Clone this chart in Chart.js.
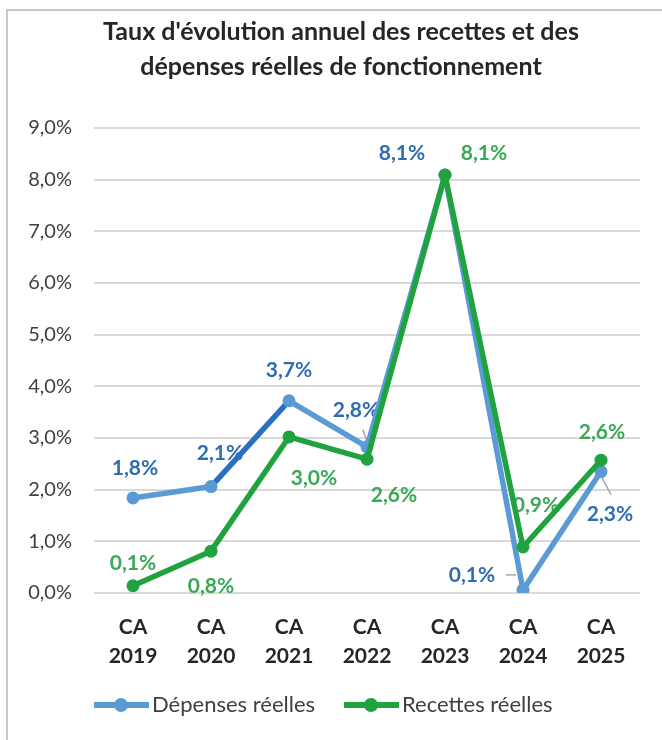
<!DOCTYPE html>
<html>
<head>
<meta charset="utf-8">
<script src="https://cdn.jsdelivr.net/npm/chart.js@4/dist/chart.umd.min.js"></script>
<style>
  html, body { margin: 0; padding: 0; background: #fff; }
  #wrap { position: relative; width: 662px; height: 740px; }
  #frame { position: absolute; left: 6px; top: 9px; right: 0; bottom: 0; border-left: 2px solid #c9c9c9; border-top: 2px solid #c9c9c9; pointer-events: none; }
</style>
</head>
<body>
<div id="wrap">
  <canvas id="myChart" width="662" height="740"></canvas>
  <div id="frame"></div>
</div>
<script>
// categories
const annees = [['CA', '2019'], ['CA', '2020'], ['CA', '2021'], ['CA', '2022'], ['CA', '2023'], ['CA', '2024'], ['CA', '2025']]

// taux d'évolution (%)
const depenses = [1.84, 2.06, 3.72, 2.83, 8.09, 0.06, 2.35]
const recettes = [0.14, 0.81, 3.02, 2.59, 8.09, 0.89, 2.57]

// valeurs affichées dans les étiquettes
const etiqDepenses = [1.8, 2.1, 3.7, 2.8, 8.1, 0.1, 2.3]
const etiqRecettes = [0.1, 0.8, 3.0, 2.6, 8.1, 0.9, 2.6]

const titre = ["Taux d'évolution annuel des recettes et des", 'dépenses réelles de fonctionnement']

// décalage des étiquettes par rapport au point [dx, dy]
const posDepenses = [[2, -30], [9, -33], [0, -31], [-11, -37], [-43, -22], [-51, -15], [9, 43]]
const posRecettes = [[0, -23], [0, 35], [25, 41], [27, 36], [39, -22], [13, -42], [1, -28]]

// traits de rappel (série, index, [x1, y1, x2, y2] relatifs au point)
const rappels = [[0, 3, [-4, -17, 0, -5]], [0, 5, [-17, -15, -7, -15]], [0, 6, [1, 6, 10, 23]]]

const bleu = '#5b9bd5'
const bleuFonce = '#2a70c0'
const bleuTexte = '#2e6db4'
const vert = '#20a33f'
const vertTexte = '#3aa856'
const police = 'Lato, "Open Sans", sans-serif'

function fmt(v) {
  return v.toFixed(1).replace('.', ',') + '%'
}

const titrePlugin = {
  id: 'titre',
  afterDraw(chart) {
    const ctx = chart.ctx
    ctx.save()
    ctx.fillStyle = '#262626'
    ctx.font = 'bold 25px ' + police
    ctx.textAlign = 'center'
    ctx.textBaseline = 'middle'
    ctx.fillText(titre[0], 341, 32)
    ctx.fillText(titre[1], 341, 67)
    ctx.restore()
  }
}

// légende : trait + point puis texte, collés
const legende = {
  id: 'legende',
  afterDraw(chart) {
    const ctx = chart.ctx
    ctx.save()
    ctx.font = '22px ' + police
    ctx.textBaseline = 'middle'
    ctx.textAlign = 'left'
    let x = 94
    const y = 705
    chart.data.datasets.forEach(ds => {
      ctx.strokeStyle = ds.borderColor
      ctx.lineWidth = 6
      ctx.beginPath()
      ctx.moveTo(x, y)
      ctx.lineTo(x + 55, y)
      ctx.stroke()
      ctx.fillStyle = ds.borderColor
      ctx.beginPath()
      ctx.arc(x + 27, y, 7, 0, Math.PI * 2)
      ctx.fill()
      ctx.fillStyle = '#404040'
      ctx.fillText(ds.label, x + 58, y)
      x += 58 + ctx.measureText(ds.label).width + 29
    })
    ctx.restore()
  }
}

const etiquettes = {
  id: 'etiquettes',
  beforeDatasetsDraw(chart) {
    const ctx = chart.ctx
    const sets = [[etiqDepenses, posDepenses, bleuTexte], [etiqRecettes, posRecettes, vertTexte]]
    ctx.save()
    ctx.strokeStyle = '#a6a6a6'
    ctx.lineWidth = 1.5
    rappels.forEach(([d, i, l]) => {
      const pt = chart.getDatasetMeta(d).data[i]
      ctx.beginPath()
      ctx.moveTo(pt.x + l[0], pt.y + l[1])
      ctx.lineTo(pt.x + l[2], pt.y + l[3])
      ctx.stroke()
    })
    ctx.font = 'bold 21px ' + police
    ctx.textAlign = 'center'
    ctx.textBaseline = 'middle'
    sets.forEach((s, d) => {
      const meta = chart.getDatasetMeta(d)
      meta.data.forEach((pt, i) => {
        ctx.fillStyle = s[2]
        ctx.fillText(fmt(s[0][i]), pt.x + s[1][i][0], pt.y + s[1][i][1])
      })
    })
    ctx.restore()
  }
}

var ctx = document.getElementById('myChart').getContext('2d')
var chart = new Chart(ctx, {
  type: 'line',
  data: {
    labels: annees,
    datasets: [
      {
        label: 'Dépenses réelles',
        data: depenses,
        order: 1,
        borderColor: bleu,
        backgroundColor: bleu,
        borderWidth: 5.5,
        borderJoinStyle: 'round',
        pointRadius: 6.5,
        pointBorderWidth: 0,
        segment: {
          borderColor: c => c.p0DataIndex === 1 ? bleuFonce : undefined
        }
      },
      {
        label: 'Recettes réelles',
        data: recettes,
        order: 0,
        borderColor: vert,
        backgroundColor: vert,
        borderWidth: 5.5,
        borderJoinStyle: 'round',
        pointRadius: 6.5,
        pointBorderWidth: 0
      }
    ]
  },
  options: {
    responsive: false,
    animation: false,
    layout: { padding: { left: 8, right: 22, top: 128, bottom: 0 } },
    scales: {
      x: {
        offset: true,
        grid: { display: false, drawTicks: false },
        border: { display: false },
        ticks: {
          color: '#262626',
          font: { family: police, size: 21, weight: 'bold', lineHeight: 1.38 },
          padding: 20,
          maxRotation: 0
        },
        afterFit: s => { s.height = 147 }
      },
      y: {
        min: 0,
        max: 9,
        grid: { color: '#d9d9d9', lineWidth: 2, drawTicks: false },
        border: { display: false },
        ticks: {
          stepSize: 1,
          color: '#404040',
          font: { family: police, size: 20 },
          padding: 22,
          callback: v => fmt(v)
        },
        afterFit: s => { s.width = 86 }
      }
    },
    plugins: {
      legend: { display: false },
      tooltip: { enabled: false }
    }
  },
  plugins: [titrePlugin, etiquettes, legende]
})
</script>
</body>
</html>
